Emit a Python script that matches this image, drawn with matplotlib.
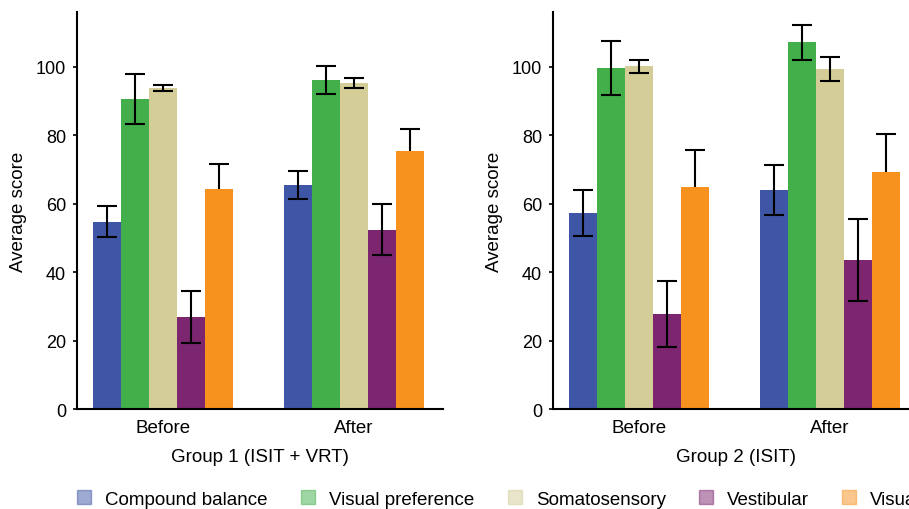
import matplotlib.pyplot as plt
import matplotlib.patches as mpatches
import numpy as np

plt.rcParams['font.family'] = ['Liberation Sans', 'DejaVu Sans']

phases = ["Before", "After"]
measures = ["Compound balance", "Visual preference", "Somatosensory", "Vestibular", "Visual"]
colors = ["#3F56A6", "#43AF4A", "#D4CD98", "#7B266E", "#F7921E"]

# Group 1 (ISIT + VRT): rows = measures, cols = Before/After
g1_mean = [[54.7, 65.4], [90.6, 96.0], [93.8, 95.3], [26.9, 52.4], [64.2, 75.4]]
g1_err = [[4.5, 4.1], [7.2, 4.1], [1.0, 1.4], [7.5, 7.5], [7.5, 6.5]]

# Group 2 (ISIT)
g2_mean = [[57.3, 64.0], [99.6, 107.1], [100.1, 99.4], [27.8, 43.5], [64.8, 69.4]]
g2_err = [[6.7, 7.3], [7.8, 5.0], [2.0, 3.6], [9.6, 12.0], [10.9, 11.1]]

groups = [("Group 1 (ISIT + VRT)", g1_mean, g1_err),
          ("Group 2 (ISIT)", g2_mean, g2_err)]

fig = plt.figure(figsize=(9.09, 5.10), dpi=100)
ax_pos = [[0.0847, 0.196, 0.4026, 0.7785], [0.6084, 0.196, 0.4026, 0.7785]]

width = 0.1466
x = np.arange(len(phases))
fs = 13.5

for pos, (title, means, errs) in zip(ax_pos, groups):
    ax = fig.add_axes(pos)
    for i, (m, e, c) in enumerate(zip(means, errs, colors)):
        offs = (i - 2) * width
        ax.bar(x + offs, m, width, color=c, label=measures[i], zorder=2)
        # last series: whisker sits behind its bar, so only the top half shows
        z = 1 if i == len(measures) - 1 else 3
        ax.errorbar(x + offs, m, yerr=e, fmt="none", ecolor="black",
                    elinewidth=1.5, capsize=7, capthick=1.5, zorder=z)
    ax.set_xlim(-0.45, 1.466)
    ax.set_ylim(0, 116)
    ax.set_yticks([0, 20, 40, 60, 80, 100])
    ax.set_xticks(x)
    ax.set_xticklabels(phases)
    ax.spines["top"].set_visible(False)
    ax.spines["right"].set_visible(False)
    ax.spines["left"].set_linewidth(1.5)
    ax.spines["bottom"].set_linewidth(1.5)
    ax.tick_params(axis="y", labelsize=13, length=3, width=1.2, pad=5)
    ax.tick_params(axis="x", labelsize=fs, length=0, pad=7)
    ax.set_ylabel("Average score", fontsize=fs, labelpad=6)
    ax.set_xlabel(title, fontsize=fs, labelpad=9)

handles = [mpatches.Patch(color=c, alpha=0.5, label=m) for c, m in zip(colors, measures)]
fig.legend(handles=handles, loc="center left", bbox_to_anchor=(0.085, 0.02),
           ncol=5, frameon=False, fontsize=fs, handlelength=0.75, handleheight=0.75,
           handletextpad=0.75, columnspacing=1.77, borderpad=0, borderaxespad=0)

fig.savefig("out.png", dpi=100)
